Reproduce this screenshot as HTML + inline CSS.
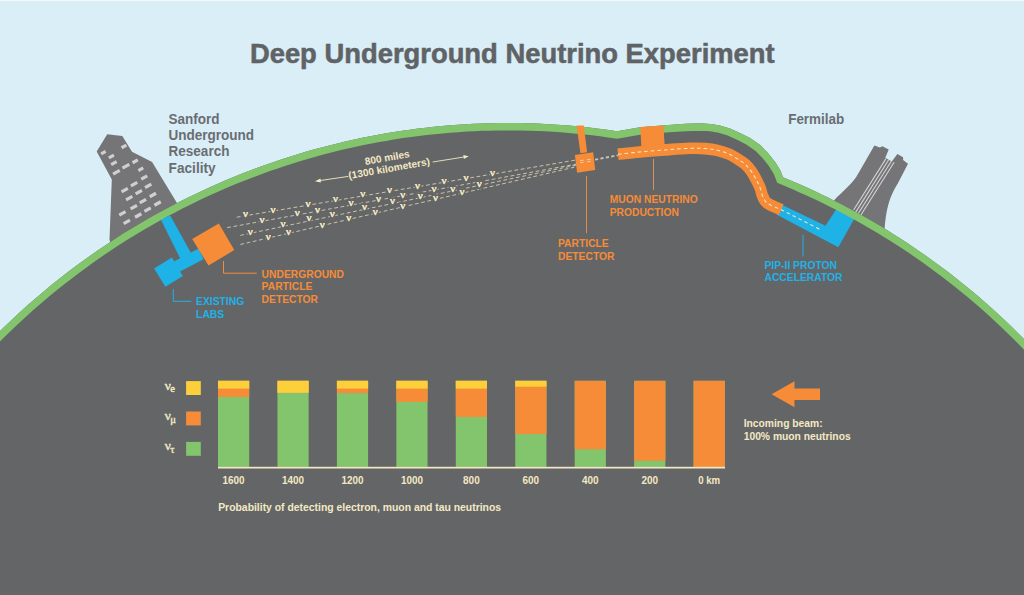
<!DOCTYPE html>
<html><head><meta charset="utf-8"><title>Deep Underground Neutrino Experiment</title>
<style>html,body{margin:0;padding:0;background:#daeef8;}svg{display:block;}</style></head>
<body><svg width="1024" height="595" viewBox="0 0 1024 595">
<rect x="0" y="0" width="1024" height="595" fill="#daeef8"/>
<rect x="0" y="0" width="1024" height="1" fill="#f2f9fc"/>
<path d="M107.2 134.2 L122.3 136.1 L132 151.8 L152.1 161.9 L180 208 L112 250 L109.5 239.4 L111.8 179.6 L96.7 151.4 Z" fill="#757577"/>
<rect x="100.8" y="151.1" width="5.2" height="3.2" fill="#cfcfd1" transform="rotate(-29 103.4 152.7)"/>
<rect x="121.2" y="144.8" width="5.6" height="3.2" fill="#cfcfd1" transform="rotate(-29 124.0 146.4)"/>
<rect x="108.5" y="154.9" width="5.8" height="3.2" fill="#cfcfd1" transform="rotate(-29 111.4 156.5)"/>
<rect x="110.8" y="161.6" width="6.2" height="3.2" fill="#cfcfd1" transform="rotate(-29 113.9 163.2)"/>
<rect x="132.2" y="159.7" width="6.0" height="3.2" fill="#cfcfd1" transform="rotate(-29 135.2 161.3)"/>
<rect x="122.0" y="164.7" width="7.8" height="3.2" fill="#cfcfd1" transform="rotate(-29 125.9 166.3)"/>
<rect x="112.6" y="170.6" width="7.6" height="3.2" fill="#cfcfd1" transform="rotate(-29 116.4 172.2)"/>
<rect x="138.0" y="167.7" width="5.6" height="3.2" fill="#cfcfd1" transform="rotate(-29 140.8 169.3)"/>
<rect x="140.8" y="175.9" width="6.8" height="3.2" fill="#cfcfd1" transform="rotate(-29 144.2 177.5)"/>
<rect x="130.5" y="182.5" width="7.2" height="3.2" fill="#cfcfd1" transform="rotate(-29 134.1 184.1)"/>
<rect x="121.1" y="188.6" width="7.2" height="3.2" fill="#cfcfd1" transform="rotate(-29 124.7 190.2)"/>
<rect x="144.6" y="184.3" width="7.2" height="3.2" fill="#cfcfd1" transform="rotate(-29 148.2 185.9)"/>
<rect x="135.2" y="190.5" width="7.2" height="3.2" fill="#cfcfd1" transform="rotate(-29 138.8 192.1)"/>
<rect x="125.6" y="196.6" width="7.2" height="3.2" fill="#cfcfd1" transform="rotate(-29 129.2 198.2)"/>
<rect x="149.3" y="193.4" width="7.2" height="3.2" fill="#cfcfd1" transform="rotate(-29 152.9 195.0)"/>
<rect x="139.3" y="199.6" width="7.2" height="3.2" fill="#cfcfd1" transform="rotate(-29 142.9 201.2)"/>
<rect x="130.2" y="205.5" width="7.2" height="3.2" fill="#cfcfd1" transform="rotate(-29 133.8 207.1)"/>
<rect x="118.8" y="211.7" width="7.2" height="3.2" fill="#cfcfd1" transform="rotate(-29 122.4 213.3)"/>
<rect x="154.0" y="201.9" width="7.2" height="3.2" fill="#cfcfd1" transform="rotate(-29 157.6 203.5)"/>
<rect x="144.0" y="208.0" width="7.2" height="3.2" fill="#cfcfd1" transform="rotate(-29 147.6 209.6)"/>
<rect x="134.6" y="213.9" width="7.2" height="3.2" fill="#cfcfd1" transform="rotate(-29 138.2 215.5)"/>
<rect x="123.2" y="220.2" width="7.2" height="3.2" fill="#cfcfd1" transform="rotate(-29 126.8 221.8)"/>
<path d="M826 215 L835 199.3 C842 192.2 850.5 185.2 856.2 177.1 L860.3 170 L874.4 145.4 L879.8 147.6 L882.3 146.2 L888.7 149.5 L885.3 157.8 L891.8 161.6 L897.4 154 L903.1 157.2 L903.1 160 L908 163.8 L897.5 184 C894.6 188.5 890.5 196.2 888.2 205.3 C886.5 212 885 220 884.5 232 L826 232 Z" fill="#757577"/>
<line x1="886.0" y1="158.6" x2="853.6" y2="210.0" stroke="#d6d6d8" stroke-width="1.05"/>
<line x1="888.7" y1="159.8" x2="855.6" y2="212.4" stroke="#d6d6d8" stroke-width="1.05"/>
<line x1="891.4" y1="161.0" x2="857.5" y2="214.8" stroke="#d6d6d8" stroke-width="1.05"/>
<line x1="894.1" y1="162.2" x2="859.5" y2="217.2" stroke="#d6d6d8" stroke-width="1.05"/>
<defs><clipPath id="gclip"><path d="M -20.00 351.54 L -12.04 343.19 L -4.07 335.10 L 3.89 327.26 L 11.85 319.66 L 19.81 312.28 L 27.77 305.12 L 35.74 298.17 L 43.70 291.42 L 51.66 284.86 L 59.62 278.49 L 67.59 272.31 L 75.55 266.29 L 83.51 260.45 L 91.47 254.77 L 99.44 249.25 L 107.40 243.89 L 115.36 238.68 L 123.32 233.61 L 131.29 228.69 L 139.25 223.91 L 147.21 219.27 L 155.18 214.76 L 163.14 210.38 L 171.10 206.14 L 179.06 202.01 L 187.03 198.02 L 194.99 194.14 L 202.95 190.38 L 210.91 186.74 L 218.88 183.22 L 226.84 179.81 L 234.80 176.51 L 242.76 173.32 L 250.73 170.24 L 258.69 167.27 L 266.65 164.40 L 274.61 161.64 L 282.57 158.98 L 290.54 156.42 L 298.50 153.96 L 306.46 151.61 L 314.43 149.35 L 322.39 147.19 L 330.35 145.13 L 338.31 143.16 L 346.27 141.29 L 354.24 139.51 L 362.20 137.83 L 370.16 136.24 L 378.12 134.74 L 386.09 133.34 L 394.05 132.02 L 402.01 130.80 L 409.98 129.66 L 417.94 128.62 L 425.90 127.67 L 433.86 126.80 L 441.82 126.03 L 449.79 125.34 L 457.75 124.75 L 465.71 124.24 L 473.68 123.81 L 481.64 123.48 L 489.60 123.23 L 497.56 123.08 L 505.52 123.00 L 513.49 123.02 L 521.45 123.12 L 529.41 123.32 L 537.38 123.60 L 545.34 123.96 L 553.30 124.42 L 561.26 124.96 L 569.23 125.59 L 577.19 126.31 L 585.15 127.12 L 593.11 128.02 L 601.08 129.01 L 609.04 130.08 L 617.00 131.25 L 640 127.3 L 665 125.2 L 685 123.8 L 700 123.3 L 711 123.9 L 720 125.4 L 730 128.5 L 740 133 L 750.1 138.1 L 760.2 145.1 L 768.2 153.2 L 775.3 162.3 L 780.3 170.3 L 783.00 177.24 L 789.52 179.96 L 796.05 182.75 L 802.58 185.62 L 809.10 188.56 L 815.62 191.58 L 822.15 194.69 L 828.67 197.87 L 835.20 201.13 L 841.73 204.48 L 848.25 207.91 L 854.77 211.42 L 861.30 215.03 L 867.83 218.72 L 874.35 222.50 L 880.88 226.37 L 887.40 230.34 L 893.92 234.40 L 900.45 238.56 L 906.98 242.81 L 913.50 247.17 L 920.02 251.63 L 926.55 256.20 L 933.08 260.88 L 939.60 265.66 L 946.12 270.56 L 952.65 275.58 L 959.17 280.71 L 965.70 285.97 L 972.23 291.36 L 978.75 296.87 L 985.27 302.52 L 991.80 308.31 L 998.33 314.24 L 1004.85 320.32 L 1011.38 326.55 L 1017.90 332.94 L 1024.42 339.49 L 1030.95 346.21 L 1037.47 353.11 L 1044.00 360.20 L 1044 620 L -20 620 Z"/></clipPath></defs>
<path d="M -20.00 351.54 L -12.04 343.19 L -4.07 335.10 L 3.89 327.26 L 11.85 319.66 L 19.81 312.28 L 27.77 305.12 L 35.74 298.17 L 43.70 291.42 L 51.66 284.86 L 59.62 278.49 L 67.59 272.31 L 75.55 266.29 L 83.51 260.45 L 91.47 254.77 L 99.44 249.25 L 107.40 243.89 L 115.36 238.68 L 123.32 233.61 L 131.29 228.69 L 139.25 223.91 L 147.21 219.27 L 155.18 214.76 L 163.14 210.38 L 171.10 206.14 L 179.06 202.01 L 187.03 198.02 L 194.99 194.14 L 202.95 190.38 L 210.91 186.74 L 218.88 183.22 L 226.84 179.81 L 234.80 176.51 L 242.76 173.32 L 250.73 170.24 L 258.69 167.27 L 266.65 164.40 L 274.61 161.64 L 282.57 158.98 L 290.54 156.42 L 298.50 153.96 L 306.46 151.61 L 314.43 149.35 L 322.39 147.19 L 330.35 145.13 L 338.31 143.16 L 346.27 141.29 L 354.24 139.51 L 362.20 137.83 L 370.16 136.24 L 378.12 134.74 L 386.09 133.34 L 394.05 132.02 L 402.01 130.80 L 409.98 129.66 L 417.94 128.62 L 425.90 127.67 L 433.86 126.80 L 441.82 126.03 L 449.79 125.34 L 457.75 124.75 L 465.71 124.24 L 473.68 123.81 L 481.64 123.48 L 489.60 123.23 L 497.56 123.08 L 505.52 123.00 L 513.49 123.02 L 521.45 123.12 L 529.41 123.32 L 537.38 123.60 L 545.34 123.96 L 553.30 124.42 L 561.26 124.96 L 569.23 125.59 L 577.19 126.31 L 585.15 127.12 L 593.11 128.02 L 601.08 129.01 L 609.04 130.08 L 617.00 131.25 L 640 127.3 L 665 125.2 L 685 123.8 L 700 123.3 L 711 123.9 L 720 125.4 L 730 128.5 L 740 133 L 750.1 138.1 L 760.2 145.1 L 768.2 153.2 L 775.3 162.3 L 780.3 170.3 L 783.00 177.24 L 789.52 179.96 L 796.05 182.75 L 802.58 185.62 L 809.10 188.56 L 815.62 191.58 L 822.15 194.69 L 828.67 197.87 L 835.20 201.13 L 841.73 204.48 L 848.25 207.91 L 854.77 211.42 L 861.30 215.03 L 867.83 218.72 L 874.35 222.50 L 880.88 226.37 L 887.40 230.34 L 893.92 234.40 L 900.45 238.56 L 906.98 242.81 L 913.50 247.17 L 920.02 251.63 L 926.55 256.20 L 933.08 260.88 L 939.60 265.66 L 946.12 270.56 L 952.65 275.58 L 959.17 280.71 L 965.70 285.97 L 972.23 291.36 L 978.75 296.87 L 985.27 302.52 L 991.80 308.31 L 998.33 314.24 L 1004.85 320.32 L 1011.38 326.55 L 1017.90 332.94 L 1024.42 339.49 L 1030.95 346.21 L 1037.47 353.11 L 1044.00 360.20 L 1044 620 L -20 620 Z" fill="#646567"/>
<g fill="#1fb2e6">
<polygon points="160.8,219.4 170.2,215.4 191.5,254 182,262"/>
<polygon points="168,264.5 198.7,248.6 203.5,259.2 172.5,275.5"/>
<polygon points="154.1,268.5 171.9,257.5 182.8,276.1 165.4,286.7"/>
</g>
<polygon points="192.2,239 218.8,223.5 234.3,250.1 208.5,265.5" fill="#f68c37"/>
<polygon points="781.2,204.5 825.5,225.8 837.2,207.8 855.3,217 838.3,247.3 776.5,214.5" fill="#1fb2e6"/>
<path d="M -20.00 351.54 L -12.04 343.19 L -4.07 335.10 L 3.89 327.26 L 11.85 319.66 L 19.81 312.28 L 27.77 305.12 L 35.74 298.17 L 43.70 291.42 L 51.66 284.86 L 59.62 278.49 L 67.59 272.31 L 75.55 266.29 L 83.51 260.45 L 91.47 254.77 L 99.44 249.25 L 107.40 243.89 L 115.36 238.68 L 123.32 233.61 L 131.29 228.69 L 139.25 223.91 L 147.21 219.27 L 155.18 214.76 L 163.14 210.38 L 171.10 206.14 L 179.06 202.01 L 187.03 198.02 L 194.99 194.14 L 202.95 190.38 L 210.91 186.74 L 218.88 183.22 L 226.84 179.81 L 234.80 176.51 L 242.76 173.32 L 250.73 170.24 L 258.69 167.27 L 266.65 164.40 L 274.61 161.64 L 282.57 158.98 L 290.54 156.42 L 298.50 153.96 L 306.46 151.61 L 314.43 149.35 L 322.39 147.19 L 330.35 145.13 L 338.31 143.16 L 346.27 141.29 L 354.24 139.51 L 362.20 137.83 L 370.16 136.24 L 378.12 134.74 L 386.09 133.34 L 394.05 132.02 L 402.01 130.80 L 409.98 129.66 L 417.94 128.62 L 425.90 127.67 L 433.86 126.80 L 441.82 126.03 L 449.79 125.34 L 457.75 124.75 L 465.71 124.24 L 473.68 123.81 L 481.64 123.48 L 489.60 123.23 L 497.56 123.08 L 505.52 123.00 L 513.49 123.02 L 521.45 123.12 L 529.41 123.32 L 537.38 123.60 L 545.34 123.96 L 553.30 124.42 L 561.26 124.96 L 569.23 125.59 L 577.19 126.31 L 585.15 127.12 L 593.11 128.02 L 601.08 129.01 L 609.04 130.08 L 617.00 131.25 L 640 127.3 L 665 125.2 L 685 123.8 L 700 123.3 L 711 123.9 L 720 125.4 L 730 128.5 L 740 133 L 750.1 138.1 L 760.2 145.1 L 768.2 153.2 L 775.3 162.3 L 780.3 170.3 L 783.00 177.24 L 789.52 179.96 L 796.05 182.75 L 802.58 185.62 L 809.10 188.56 L 815.62 191.58 L 822.15 194.69 L 828.67 197.87 L 835.20 201.13 L 841.73 204.48 L 848.25 207.91 L 854.77 211.42 L 861.30 215.03 L 867.83 218.72 L 874.35 222.50 L 880.88 226.37 L 887.40 230.34 L 893.92 234.40 L 900.45 238.56 L 906.98 242.81 L 913.50 247.17 L 920.02 251.63 L 926.55 256.20 L 933.08 260.88 L 939.60 265.66 L 946.12 270.56 L 952.65 275.58 L 959.17 280.71 L 965.70 285.97 L 972.23 291.36 L 978.75 296.87 L 985.27 302.52 L 991.80 308.31 L 998.33 314.24 L 1004.85 320.32 L 1011.38 326.55 L 1017.90 332.94 L 1024.42 339.49 L 1030.95 346.21 L 1037.47 353.11 L 1044.00 360.20" fill="none" stroke="#82c56d" stroke-width="14.8" stroke-linejoin="miter" clip-path="url(#gclip)"/>
<polygon points="576.6,125.5 583.8,125.5 587.1,152.2 580.4,153.3" fill="#f68c37"/>
<polygon points="574.9,154.9 593.2,152.2 595.2,169.9 577.1,172.7" fill="#f68c37"/>
<g stroke="#f8d9b0" stroke-width="0.9" opacity="0.9"><line x1="580" y1="160.6" x2="583.5" y2="160.2"/><line x1="580.2" y1="162.6" x2="583.7" y2="162.2"/><line x1="587" y1="159.8" x2="590.5" y2="159.4"/><line x1="587.2" y1="161.8" x2="590.7" y2="161.4"/></g>
<polygon points="640.3,127.1 663.4,125.4 664.8,148 641.5,150" fill="#f68c37"/>
<path d="M 618 154.3 C 621.67 153.90 632.17 152.63 640 151.9 C 647.83 151.17 656.67 150.50 665 149.9 C 673.33 149.30 683.33 148.52 690 148.3 C 696.67 148.08 700.45 148.27 705 148.6 C 709.55 148.93 713.23 149.35 717.3 150.3 C 721.37 151.25 725.52 152.53 729.4 154.3 C 733.28 156.07 737.90 159.18 740.6 160.9 C 743.30 162.62 743.97 163.07 745.6 164.6 C 747.23 166.13 748.93 168.17 750.4 170.1 C 751.87 172.03 753.22 174.18 754.4 176.2 C 755.58 178.22 756.53 180.23 757.5 182.2 C 758.47 184.17 759.40 185.83 760.2 188 C 761.00 190.17 761.47 193.02 762.3 195.2 C 763.13 197.38 763.87 199.48 765.2 201.1 C 766.53 202.72 768.20 203.72 770.3 204.9 C 772.40 206.08 775.97 207.40 777.8 208.2 C 779.63 209.00 780.72 209.45 781.3 209.7" fill="none" stroke="#f68c37" stroke-width="11.6"/>
<path d="M 618 154.3 C 621.67 153.90 632.17 152.63 640 151.9 C 647.83 151.17 656.67 150.50 665 149.9 C 673.33 149.30 683.33 148.52 690 148.3 C 696.67 148.08 700.45 148.27 705 148.6 C 709.55 148.93 713.23 149.35 717.3 150.3 C 721.37 151.25 725.52 152.53 729.4 154.3 C 733.28 156.07 737.90 159.18 740.6 160.9 C 743.30 162.62 743.97 163.07 745.6 164.6 C 747.23 166.13 748.93 168.17 750.4 170.1 C 751.87 172.03 753.22 174.18 754.4 176.2 C 755.58 178.22 756.53 180.23 757.5 182.2 C 758.47 184.17 759.40 185.83 760.2 188 C 761.00 190.17 761.47 193.02 762.3 195.2 C 763.13 197.38 763.87 199.48 765.2 201.1 C 766.53 202.72 768.20 203.72 770.3 204.9 C 772.40 206.08 775.97 207.40 777.8 208.2 C 779.63 209.00 780.72 209.45 781.3 209.7 L 821 230" fill="none" stroke="#fbe6c4" stroke-width="1.05" stroke-dasharray="3.6 3"/>
<line x1="236.7" y1="217.20" x2="576" y2="160.03" stroke="#f3e9c3" stroke-width="0.9" stroke-dasharray="3.8 2.6" opacity="0.8"/>
<line x1="227.2" y1="227.63" x2="576" y2="164.15" stroke="#f3e9c3" stroke-width="0.9" stroke-dasharray="3.8 2.6" opacity="0.8"/>
<line x1="240.3" y1="235.39" x2="576" y2="165.13" stroke="#f3e9c3" stroke-width="0.9" stroke-dasharray="3.8 2.6" opacity="0.8"/>
<line x1="240.3" y1="244.48" x2="576" y2="166.83" stroke="#f3e9c3" stroke-width="0.9" stroke-dasharray="3.8 2.6" opacity="0.8"/>
<line x1="595" y1="159.6" x2="618" y2="155.3" stroke="#c4c6bb" stroke-width="1.8" stroke-dasharray="3.2 2.3"/>
<text x="245.6" y="217.2" text-anchor="middle" font-family="Liberation Serif, serif" font-size="11" fill="#f3e9c3" stroke="#646567" stroke-width="3.6" paint-order="stroke">ν</text>
<text x="245.6" y="217.2" text-anchor="middle" font-family="Liberation Serif, serif" font-size="11" fill="#f3e9c3" stroke="#f3e9c3" stroke-width="0.25">ν</text>
<text x="273.0" y="213.0" text-anchor="middle" font-family="Liberation Serif, serif" font-size="11" fill="#f3e9c3" stroke="#646567" stroke-width="3.6" paint-order="stroke">ν</text>
<text x="273.0" y="213.0" text-anchor="middle" font-family="Liberation Serif, serif" font-size="11" fill="#f3e9c3" stroke="#f3e9c3" stroke-width="0.25">ν</text>
<text x="308.1" y="206.7" text-anchor="middle" font-family="Liberation Serif, serif" font-size="11" fill="#f3e9c3" stroke="#646567" stroke-width="3.6" paint-order="stroke">ν</text>
<text x="308.1" y="206.7" text-anchor="middle" font-family="Liberation Serif, serif" font-size="11" fill="#f3e9c3" stroke="#f3e9c3" stroke-width="0.25">ν</text>
<text x="335.5" y="202.0" text-anchor="middle" font-family="Liberation Serif, serif" font-size="11" fill="#f3e9c3" stroke="#646567" stroke-width="3.6" paint-order="stroke">ν</text>
<text x="335.5" y="202.0" text-anchor="middle" font-family="Liberation Serif, serif" font-size="11" fill="#f3e9c3" stroke="#f3e9c3" stroke-width="0.25">ν</text>
<text x="362.8" y="197.3" text-anchor="middle" font-family="Liberation Serif, serif" font-size="11" fill="#f3e9c3" stroke="#646567" stroke-width="3.6" paint-order="stroke">ν</text>
<text x="362.8" y="197.3" text-anchor="middle" font-family="Liberation Serif, serif" font-size="11" fill="#f3e9c3" stroke="#f3e9c3" stroke-width="0.25">ν</text>
<text x="389.4" y="193.4" text-anchor="middle" font-family="Liberation Serif, serif" font-size="11" fill="#f3e9c3" stroke="#646567" stroke-width="3.6" paint-order="stroke">ν</text>
<text x="389.4" y="193.4" text-anchor="middle" font-family="Liberation Serif, serif" font-size="11" fill="#f3e9c3" stroke="#f3e9c3" stroke-width="0.25">ν</text>
<text x="417.5" y="188.8" text-anchor="middle" font-family="Liberation Serif, serif" font-size="11" fill="#f3e9c3" stroke="#646567" stroke-width="3.6" paint-order="stroke">ν</text>
<text x="417.5" y="188.8" text-anchor="middle" font-family="Liberation Serif, serif" font-size="11" fill="#f3e9c3" stroke="#f3e9c3" stroke-width="0.25">ν</text>
<text x="444.0" y="183.8" text-anchor="middle" font-family="Liberation Serif, serif" font-size="11" fill="#f3e9c3" stroke="#646567" stroke-width="3.6" paint-order="stroke">ν</text>
<text x="444.0" y="183.8" text-anchor="middle" font-family="Liberation Serif, serif" font-size="11" fill="#f3e9c3" stroke="#f3e9c3" stroke-width="0.25">ν</text>
<text x="466.0" y="180.6" text-anchor="middle" font-family="Liberation Serif, serif" font-size="11" fill="#f3e9c3" stroke="#646567" stroke-width="3.6" paint-order="stroke">ν</text>
<text x="466.0" y="180.6" text-anchor="middle" font-family="Liberation Serif, serif" font-size="11" fill="#f3e9c3" stroke="#f3e9c3" stroke-width="0.25">ν</text>
<text x="492.5" y="175.6" text-anchor="middle" font-family="Liberation Serif, serif" font-size="11" fill="#f3e9c3" stroke="#646567" stroke-width="3.6" paint-order="stroke">ν</text>
<text x="492.5" y="175.6" text-anchor="middle" font-family="Liberation Serif, serif" font-size="11" fill="#f3e9c3" stroke="#f3e9c3" stroke-width="0.25">ν</text>
<text x="262.0" y="222.8" text-anchor="middle" font-family="Liberation Serif, serif" font-size="11" fill="#f3e9c3" stroke="#646567" stroke-width="3.6" paint-order="stroke">ν</text>
<text x="262.0" y="222.8" text-anchor="middle" font-family="Liberation Serif, serif" font-size="11" fill="#f3e9c3" stroke="#f3e9c3" stroke-width="0.25">ν</text>
<text x="297.2" y="215.6" text-anchor="middle" font-family="Liberation Serif, serif" font-size="11" fill="#f3e9c3" stroke="#646567" stroke-width="3.6" paint-order="stroke">ν</text>
<text x="297.2" y="215.6" text-anchor="middle" font-family="Liberation Serif, serif" font-size="11" fill="#f3e9c3" stroke="#f3e9c3" stroke-width="0.25">ν</text>
<text x="317.5" y="213.4" text-anchor="middle" font-family="Liberation Serif, serif" font-size="11" fill="#f3e9c3" stroke="#646567" stroke-width="3.6" paint-order="stroke">ν</text>
<text x="317.5" y="213.4" text-anchor="middle" font-family="Liberation Serif, serif" font-size="11" fill="#f3e9c3" stroke="#f3e9c3" stroke-width="0.25">ν</text>
<text x="351.1" y="206.2" text-anchor="middle" font-family="Liberation Serif, serif" font-size="11" fill="#f3e9c3" stroke="#646567" stroke-width="3.6" paint-order="stroke">ν</text>
<text x="351.1" y="206.2" text-anchor="middle" font-family="Liberation Serif, serif" font-size="11" fill="#f3e9c3" stroke="#f3e9c3" stroke-width="0.25">ν</text>
<text x="378.4" y="202.0" text-anchor="middle" font-family="Liberation Serif, serif" font-size="11" fill="#f3e9c3" stroke="#646567" stroke-width="3.6" paint-order="stroke">ν</text>
<text x="378.4" y="202.0" text-anchor="middle" font-family="Liberation Serif, serif" font-size="11" fill="#f3e9c3" stroke="#f3e9c3" stroke-width="0.25">ν</text>
<text x="402.7" y="197.8" text-anchor="middle" font-family="Liberation Serif, serif" font-size="11" fill="#f3e9c3" stroke="#646567" stroke-width="3.6" paint-order="stroke">ν</text>
<text x="402.7" y="197.8" text-anchor="middle" font-family="Liberation Serif, serif" font-size="11" fill="#f3e9c3" stroke="#f3e9c3" stroke-width="0.25">ν</text>
<text x="433.9" y="191.5" text-anchor="middle" font-family="Liberation Serif, serif" font-size="11" fill="#f3e9c3" stroke="#646567" stroke-width="3.6" paint-order="stroke">ν</text>
<text x="433.9" y="191.5" text-anchor="middle" font-family="Liberation Serif, serif" font-size="11" fill="#f3e9c3" stroke="#f3e9c3" stroke-width="0.25">ν</text>
<text x="250.3" y="234.8" text-anchor="middle" font-family="Liberation Serif, serif" font-size="11" fill="#f3e9c3" stroke="#646567" stroke-width="3.6" paint-order="stroke">ν</text>
<text x="250.3" y="234.8" text-anchor="middle" font-family="Liberation Serif, serif" font-size="11" fill="#f3e9c3" stroke="#f3e9c3" stroke-width="0.25">ν</text>
<text x="283.1" y="227.0" text-anchor="middle" font-family="Liberation Serif, serif" font-size="11" fill="#f3e9c3" stroke="#646567" stroke-width="3.6" paint-order="stroke">ν</text>
<text x="283.1" y="227.0" text-anchor="middle" font-family="Liberation Serif, serif" font-size="11" fill="#f3e9c3" stroke="#f3e9c3" stroke-width="0.25">ν</text>
<text x="308.9" y="220.8" text-anchor="middle" font-family="Liberation Serif, serif" font-size="11" fill="#f3e9c3" stroke="#646567" stroke-width="3.6" paint-order="stroke">ν</text>
<text x="308.9" y="220.8" text-anchor="middle" font-family="Liberation Serif, serif" font-size="11" fill="#f3e9c3" stroke="#f3e9c3" stroke-width="0.25">ν</text>
<text x="332.3" y="217.2" text-anchor="middle" font-family="Liberation Serif, serif" font-size="11" fill="#f3e9c3" stroke="#646567" stroke-width="3.6" paint-order="stroke">ν</text>
<text x="332.3" y="217.2" text-anchor="middle" font-family="Liberation Serif, serif" font-size="11" fill="#f3e9c3" stroke="#f3e9c3" stroke-width="0.25">ν</text>
<text x="364.4" y="210.3" text-anchor="middle" font-family="Liberation Serif, serif" font-size="11" fill="#f3e9c3" stroke="#646567" stroke-width="3.6" paint-order="stroke">ν</text>
<text x="364.4" y="210.3" text-anchor="middle" font-family="Liberation Serif, serif" font-size="11" fill="#f3e9c3" stroke="#f3e9c3" stroke-width="0.25">ν</text>
<text x="392.5" y="204.1" text-anchor="middle" font-family="Liberation Serif, serif" font-size="11" fill="#f3e9c3" stroke="#646567" stroke-width="3.6" paint-order="stroke">ν</text>
<text x="392.5" y="204.1" text-anchor="middle" font-family="Liberation Serif, serif" font-size="11" fill="#f3e9c3" stroke="#f3e9c3" stroke-width="0.25">ν</text>
<text x="420.3" y="198.9" text-anchor="middle" font-family="Liberation Serif, serif" font-size="11" fill="#f3e9c3" stroke="#646567" stroke-width="3.6" paint-order="stroke">ν</text>
<text x="420.3" y="198.9" text-anchor="middle" font-family="Liberation Serif, serif" font-size="11" fill="#f3e9c3" stroke="#f3e9c3" stroke-width="0.25">ν</text>
<text x="452.7" y="192.3" text-anchor="middle" font-family="Liberation Serif, serif" font-size="11" fill="#f3e9c3" stroke="#646567" stroke-width="3.6" paint-order="stroke">ν</text>
<text x="452.7" y="192.3" text-anchor="middle" font-family="Liberation Serif, serif" font-size="11" fill="#f3e9c3" stroke="#f3e9c3" stroke-width="0.25">ν</text>
<text x="479.2" y="186.9" text-anchor="middle" font-family="Liberation Serif, serif" font-size="11" fill="#f3e9c3" stroke="#646567" stroke-width="3.6" paint-order="stroke">ν</text>
<text x="479.2" y="186.9" text-anchor="middle" font-family="Liberation Serif, serif" font-size="11" fill="#f3e9c3" stroke="#f3e9c3" stroke-width="0.25">ν</text>
<text x="268.3" y="239.5" text-anchor="middle" font-family="Liberation Serif, serif" font-size="11" fill="#f3e9c3" stroke="#646567" stroke-width="3.6" paint-order="stroke">ν</text>
<text x="268.3" y="239.5" text-anchor="middle" font-family="Liberation Serif, serif" font-size="11" fill="#f3e9c3" stroke="#f3e9c3" stroke-width="0.25">ν</text>
<text x="288.6" y="235.2" text-anchor="middle" font-family="Liberation Serif, serif" font-size="11" fill="#f3e9c3" stroke="#646567" stroke-width="3.6" paint-order="stroke">ν</text>
<text x="288.6" y="235.2" text-anchor="middle" font-family="Liberation Serif, serif" font-size="11" fill="#f3e9c3" stroke="#f3e9c3" stroke-width="0.25">ν</text>
<text x="322.2" y="227.5" text-anchor="middle" font-family="Liberation Serif, serif" font-size="11" fill="#f3e9c3" stroke="#646567" stroke-width="3.6" paint-order="stroke">ν</text>
<text x="322.2" y="227.5" text-anchor="middle" font-family="Liberation Serif, serif" font-size="11" fill="#f3e9c3" stroke="#f3e9c3" stroke-width="0.25">ν</text>
<text x="348.8" y="220.8" text-anchor="middle" font-family="Liberation Serif, serif" font-size="11" fill="#f3e9c3" stroke="#646567" stroke-width="3.6" paint-order="stroke">ν</text>
<text x="348.8" y="220.8" text-anchor="middle" font-family="Liberation Serif, serif" font-size="11" fill="#f3e9c3" stroke="#f3e9c3" stroke-width="0.25">ν</text>
<text x="375.3" y="214.5" text-anchor="middle" font-family="Liberation Serif, serif" font-size="11" fill="#f3e9c3" stroke="#646567" stroke-width="3.6" paint-order="stroke">ν</text>
<text x="375.3" y="214.5" text-anchor="middle" font-family="Liberation Serif, serif" font-size="11" fill="#f3e9c3" stroke="#f3e9c3" stroke-width="0.25">ν</text>
<text x="402.7" y="208.8" text-anchor="middle" font-family="Liberation Serif, serif" font-size="11" fill="#f3e9c3" stroke="#646567" stroke-width="3.6" paint-order="stroke">ν</text>
<text x="402.7" y="208.8" text-anchor="middle" font-family="Liberation Serif, serif" font-size="11" fill="#f3e9c3" stroke="#f3e9c3" stroke-width="0.25">ν</text>
<text x="435.5" y="201.2" text-anchor="middle" font-family="Liberation Serif, serif" font-size="11" fill="#f3e9c3" stroke="#646567" stroke-width="3.6" paint-order="stroke">ν</text>
<text x="435.5" y="201.2" text-anchor="middle" font-family="Liberation Serif, serif" font-size="11" fill="#f3e9c3" stroke="#f3e9c3" stroke-width="0.25">ν</text>
<text x="462.0" y="194.7" text-anchor="middle" font-family="Liberation Serif, serif" font-size="11" fill="#f3e9c3" stroke="#646567" stroke-width="3.6" paint-order="stroke">ν</text>
<text x="462.0" y="194.7" text-anchor="middle" font-family="Liberation Serif, serif" font-size="11" fill="#f3e9c3" stroke="#f3e9c3" stroke-width="0.25">ν</text>
<g transform="rotate(-10 390 168)" fill="#f3e9c3" font-family="Liberation Sans, sans-serif" font-weight="bold" font-size="10.1" text-anchor="middle"><text x="389" y="160.8">800 miles</text><text x="389" y="171.8">(1300 kilometers)</text></g>
<g stroke="#f3e9c3" stroke-width="0.9" fill="none"><line x1="348.3" y1="176.4" x2="317" y2="181"/><line x1="432.7" y1="162" x2="466.5" y2="156.6"/></g>
<polygon points="315,181.3 320.5,178.6 320.9,182.6" fill="#f3e9c3"/>
<polygon points="468.7,156.3 463.3,155.0 463.9,159.0" fill="#f3e9c3"/>
<polyline points="223.5,261 223.5,273.2 256.7,273.2" fill="none" stroke="#f68c37" stroke-width="1"/>
<polyline points="173.3,289.2 173.3,301.3 191.3,301.3" fill="none" stroke="#1fb2e6" stroke-width="1"/>
<line x1="586.5" y1="176" x2="586.5" y2="233.3" stroke="#e58a45" stroke-width="1"/>
<line x1="653.5" y1="159" x2="653.5" y2="190" stroke="#d99060" stroke-width="1"/>
<line x1="803" y1="234.9" x2="803" y2="256.5" stroke="#1fb2e6" stroke-width="1"/>
<text font-family="Liberation Sans, sans-serif" font-weight="bold" font-size="10.3" fill="#f68c37"><tspan x="261.6" y="278.0">UNDERGROUND</tspan><tspan x="261.6" y="290.4">PARTICLE</tspan><tspan x="261.6" y="302.8">DETECTOR</tspan></text>
<text font-family="Liberation Sans, sans-serif" font-weight="bold" font-size="10.3" fill="#1fb2e6"><tspan x="196.1" y="305.4">EXISTING</tspan><tspan x="196.1" y="317.5">LABS</tspan></text>
<text font-family="Liberation Sans, sans-serif" font-weight="bold" font-size="10.3" fill="#f68c37"><tspan x="558" y="247.2">PARTICLE</tspan><tspan x="558" y="259.8">DETECTOR</tspan></text>
<text font-family="Liberation Sans, sans-serif" font-weight="bold" font-size="10.3" fill="#f68c37"><tspan x="609.7" y="203.1">MUON NEUTRINO</tspan><tspan x="609.7" y="215.7">PRODUCTION</tspan></text>
<text font-family="Liberation Sans, sans-serif" font-weight="bold" font-size="10.3" fill="#1fb2e6"><tspan x="764.5" y="269.3">PIP-II PROTON</tspan><tspan x="764.5" y="281.0">ACCELERATOR</tspan></text>
<text x="168.6" y="123.7" font-family="Liberation Sans, sans-serif" font-weight="bold" font-size="14" fill="#696d72" textLength="51.0" lengthAdjust="spacingAndGlyphs">Sanford</text>
<text x="168.6" y="140.0" font-family="Liberation Sans, sans-serif" font-weight="bold" font-size="14" fill="#696d72" textLength="85.5" lengthAdjust="spacingAndGlyphs">Underground</text>
<text x="168.6" y="156.3" font-family="Liberation Sans, sans-serif" font-weight="bold" font-size="14" fill="#696d72" textLength="60.8" lengthAdjust="spacingAndGlyphs">Research</text>
<text x="168.6" y="172.6" font-family="Liberation Sans, sans-serif" font-weight="bold" font-size="14" fill="#696d72" textLength="47.0" lengthAdjust="spacingAndGlyphs">Facility</text>
<text x="788.2" y="123.6" font-family="Liberation Sans, sans-serif" font-weight="bold" font-size="14" fill="#696d72" textLength="56" lengthAdjust="spacingAndGlyphs">Fermilab</text>
<text x="249.9" y="62.6" font-family="Liberation Sans, sans-serif" font-weight="bold" font-size="27.8" fill="#606366" stroke="#606366" stroke-width="0.55" textLength="524.8" lengthAdjust="spacingAndGlyphs">Deep Underground Neutrino Experiment</text>
<rect x="218.00" y="380.8" width="31.2" height="86.10" fill="#82c56d"/>
<rect x="218.00" y="380.8" width="31.2" height="16.20" fill="#f68c37"/>
<rect x="218.00" y="380.8" width="31.2" height="7.80" fill="#fdd03b"/>
<text x="233.60" y="483.6" text-anchor="middle" font-family="Liberation Sans, sans-serif" font-weight="bold" font-size="10.6" fill="#f3e9c3" textLength="22.0" lengthAdjust="spacingAndGlyphs">1600</text>
<rect x="277.45" y="380.8" width="31.2" height="86.10" fill="#82c56d"/>
<rect x="277.45" y="380.8" width="31.2" height="12.00" fill="#f68c37"/>
<rect x="277.45" y="380.8" width="31.2" height="12.00" fill="#fdd03b"/>
<text x="293.05" y="483.6" text-anchor="middle" font-family="Liberation Sans, sans-serif" font-weight="bold" font-size="10.6" fill="#f3e9c3" textLength="22.0" lengthAdjust="spacingAndGlyphs">1400</text>
<rect x="336.90" y="380.8" width="31.2" height="86.10" fill="#82c56d"/>
<rect x="336.90" y="380.8" width="31.2" height="12.30" fill="#f68c37"/>
<rect x="336.90" y="380.8" width="31.2" height="7.80" fill="#fdd03b"/>
<text x="352.50" y="483.6" text-anchor="middle" font-family="Liberation Sans, sans-serif" font-weight="bold" font-size="10.6" fill="#f3e9c3" textLength="22.0" lengthAdjust="spacingAndGlyphs">1200</text>
<rect x="396.35" y="380.8" width="31.2" height="86.10" fill="#82c56d"/>
<rect x="396.35" y="380.8" width="31.2" height="21.10" fill="#f68c37"/>
<rect x="396.35" y="380.8" width="31.2" height="7.80" fill="#fdd03b"/>
<text x="411.95" y="483.6" text-anchor="middle" font-family="Liberation Sans, sans-serif" font-weight="bold" font-size="10.6" fill="#f3e9c3" textLength="22.0" lengthAdjust="spacingAndGlyphs">1000</text>
<rect x="455.80" y="380.8" width="31.2" height="86.10" fill="#82c56d"/>
<rect x="455.80" y="380.8" width="31.2" height="36.20" fill="#f68c37"/>
<rect x="455.80" y="380.8" width="31.2" height="7.80" fill="#fdd03b"/>
<text x="471.40" y="483.6" text-anchor="middle" font-family="Liberation Sans, sans-serif" font-weight="bold" font-size="10.6" fill="#f3e9c3" textLength="16.6" lengthAdjust="spacingAndGlyphs">800</text>
<rect x="515.25" y="380.8" width="31.2" height="86.10" fill="#82c56d"/>
<rect x="515.25" y="380.8" width="31.2" height="53.20" fill="#f68c37"/>
<rect x="515.25" y="380.8" width="31.2" height="5.90" fill="#fdd03b"/>
<text x="530.85" y="483.6" text-anchor="middle" font-family="Liberation Sans, sans-serif" font-weight="bold" font-size="10.6" fill="#f3e9c3" textLength="16.6" lengthAdjust="spacingAndGlyphs">600</text>
<rect x="574.70" y="380.8" width="31.2" height="86.10" fill="#82c56d"/>
<rect x="574.70" y="380.8" width="31.2" height="68.50" fill="#f68c37"/>
<text x="590.30" y="483.6" text-anchor="middle" font-family="Liberation Sans, sans-serif" font-weight="bold" font-size="10.6" fill="#f3e9c3" textLength="16.6" lengthAdjust="spacingAndGlyphs">400</text>
<rect x="634.15" y="380.8" width="31.2" height="86.10" fill="#82c56d"/>
<rect x="634.15" y="380.8" width="31.2" height="80.00" fill="#f68c37"/>
<text x="649.75" y="483.6" text-anchor="middle" font-family="Liberation Sans, sans-serif" font-weight="bold" font-size="10.6" fill="#f3e9c3" textLength="16.6" lengthAdjust="spacingAndGlyphs">200</text>
<rect x="693.60" y="380.8" width="31.2" height="86.10" fill="#82c56d"/>
<rect x="693.60" y="380.8" width="31.2" height="86.30" fill="#f68c37"/>
<text x="709.20" y="483.6" text-anchor="middle" font-family="Liberation Sans, sans-serif" font-weight="bold" font-size="10.6" fill="#f3e9c3" textLength="22.0" lengthAdjust="spacingAndGlyphs">0 km</text>
<rect x="218" y="466.8" width="507" height="1.7" fill="#f3e9c3"/>
<rect x="186.1" y="381.1" width="14.7" height="13.9" fill="#fdd03b"/>
<rect x="186.1" y="411.5" width="14.7" height="13.9" fill="#f68c37"/>
<rect x="186.1" y="441.9" width="14.7" height="13.9" fill="#82c56d"/>
<text x="164.8" y="389.5" font-family="Liberation Serif, serif" font-size="13.5" fill="#f3e9c3" stroke="#f3e9c3" stroke-width="0.4">ν<tspan font-size="10.5" dy="2.6" dx="-0.6">e</tspan></text>
<text x="164.8" y="419.9" font-family="Liberation Serif, serif" font-size="13.5" fill="#f3e9c3" stroke="#f3e9c3" stroke-width="0.4">ν<tspan font-size="10.5" dy="2.6" dx="-0.6">μ</tspan></text>
<text x="164.8" y="450.3" font-family="Liberation Serif, serif" font-size="13.5" fill="#f3e9c3" stroke="#f3e9c3" stroke-width="0.4">ν<tspan font-size="10.5" dy="2.6" dx="-0.6">τ</tspan></text>
<text x="218.2" y="511" font-family="Liberation Sans, sans-serif" font-weight="bold" font-size="10.4" fill="#f3e9c3">Probability of detecting electron, muon and tau neutrinos</text>
<polygon points="771.6,394.3 794.5,381.2 794.5,388.5 820,388.5 820,399.9 794.5,399.9 794.5,407.3" fill="#f68c37"/>
<text font-family="Liberation Sans, sans-serif" font-weight="bold" font-size="10.3" fill="#f3e9c3"><tspan x="743.7" y="427.4">Incoming beam:</tspan><tspan x="743.7" y="439.7">100% muon neutrinos</tspan></text>
</svg></body></html>
